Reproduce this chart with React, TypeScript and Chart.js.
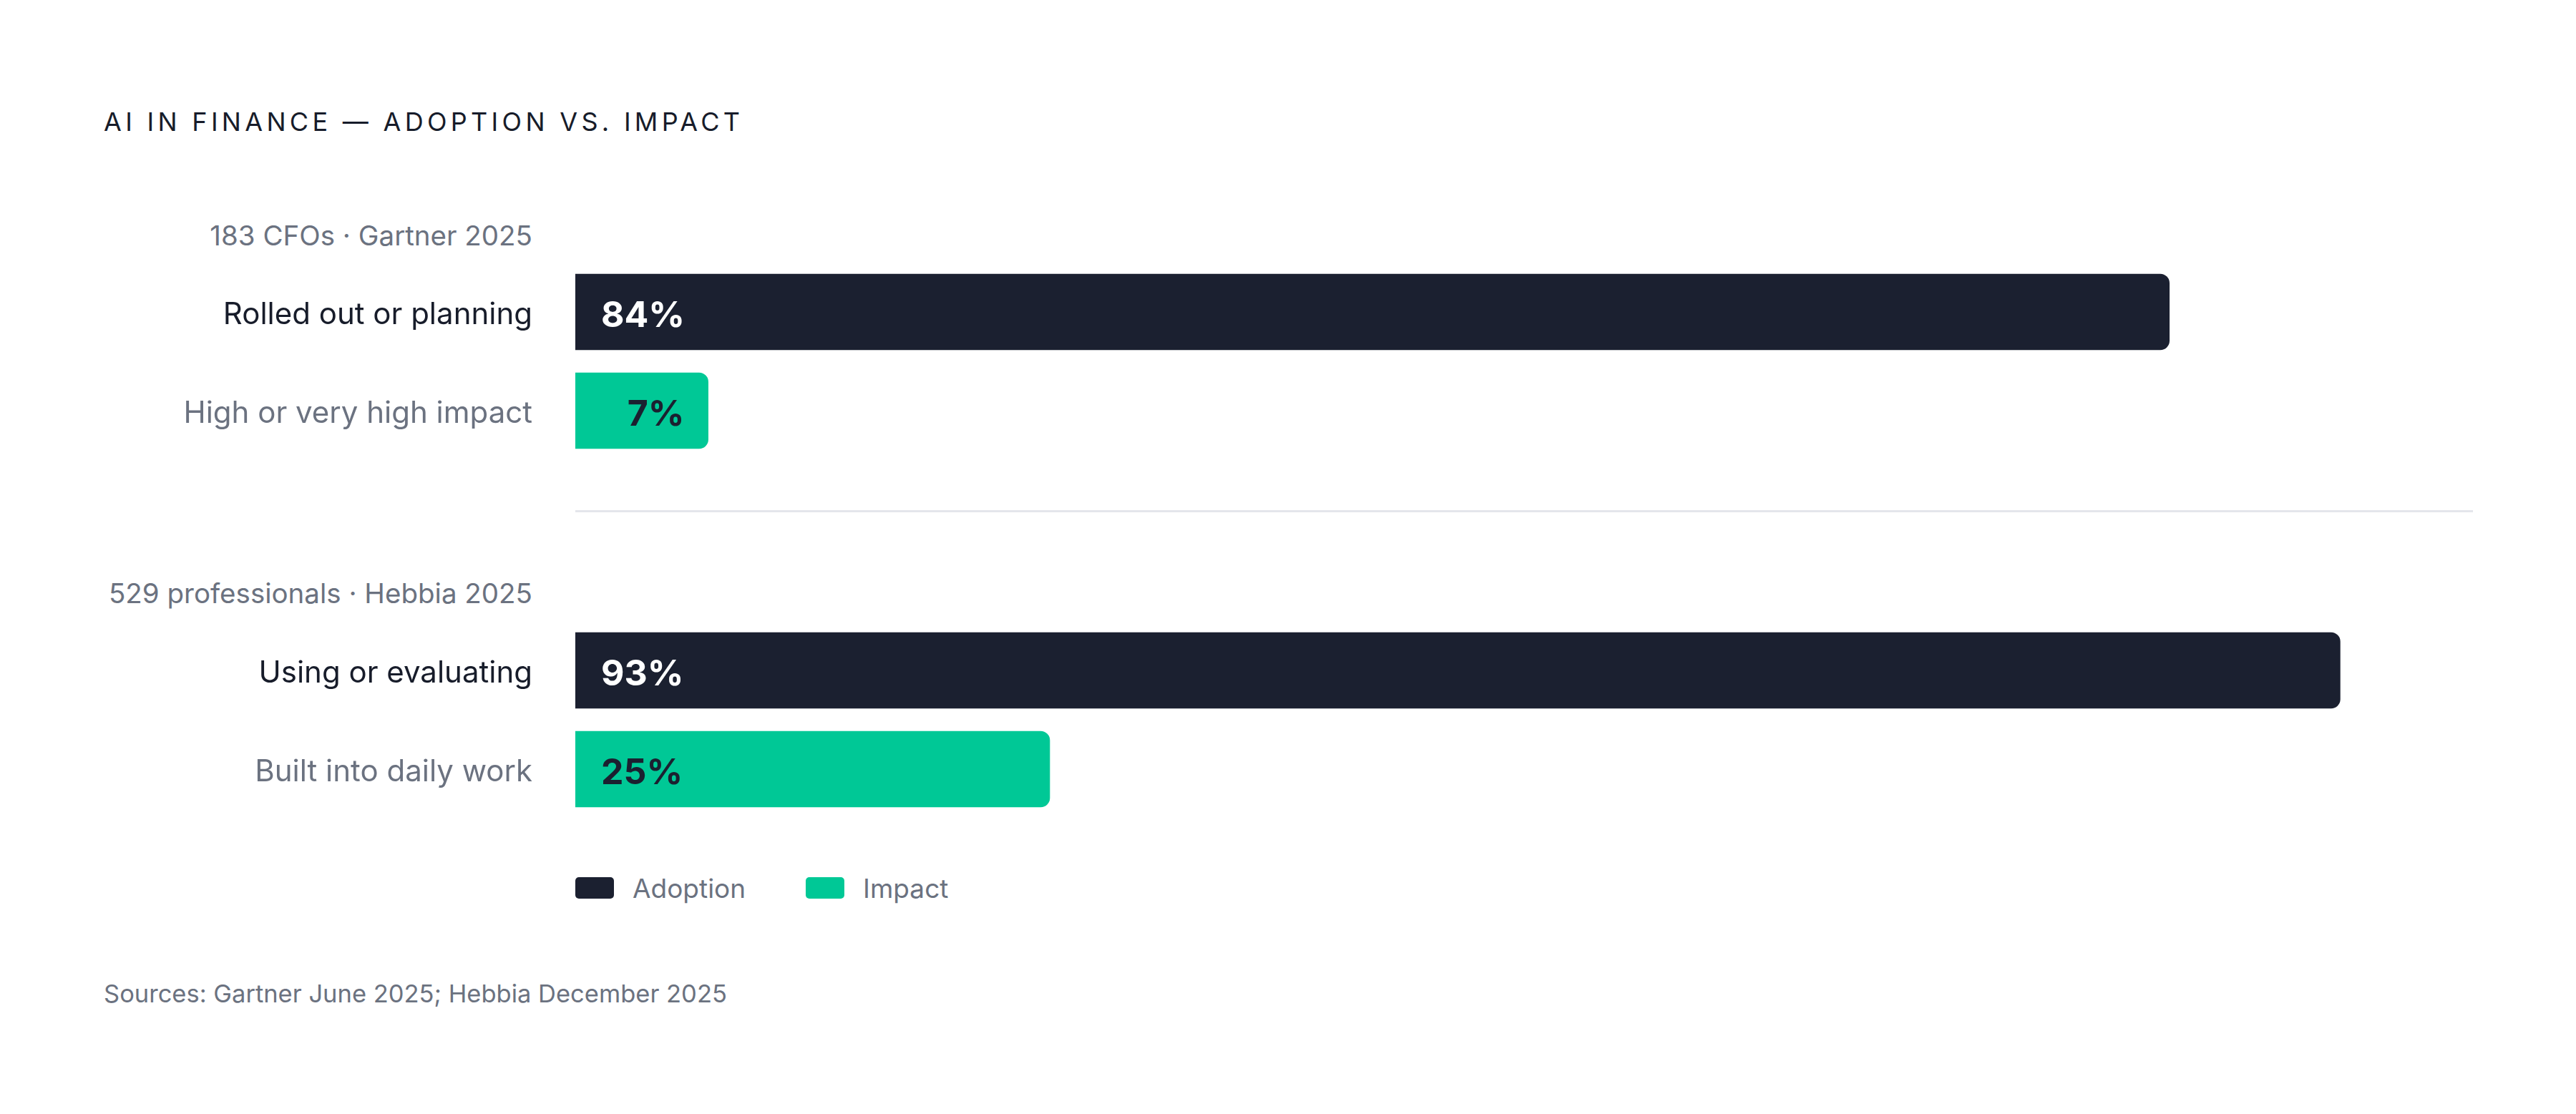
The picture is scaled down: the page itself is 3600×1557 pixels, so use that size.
import { useEffect, useRef } from "react";
import { Chart, registerables } from "chart.js";

Chart.register(...registerables);

const FONT = 'Inter, "Noto Sans", sans-serif';
const INK = "#171c2a";
const DARK = "#1b2030";
const GREEN = "#00c896";
const GRAY = "#6b7280";

// data
const title = "AI IN FINANCE — ADOPTION VS. IMPACT";
const seriesNames = ["Adoption", "Impact"];
const gartnerNote = "183 CFOs · Gartner 2025";
const gartnerLabels = ["Rolled out or planning", "High or very high impact"];
const gartnerValues = [84, 7];
const hebbiaNote = "529 professionals · Hebbia 2025";
const hebbiaLabels = ["Using or evaluating", "Built into daily work"];
const hebbiaValues = [93, 25];
const sourceNote = "Sources: Gartner June 2025; Hebbia December 2025";

const valueLabels = {
  id: "valueLabels",
  afterDatasetsDraw(chart: Chart) {
    const ctx = chart.ctx;
    ctx.save();
    ctx.font = `700 50px ${FONT}`;
    ctx.textBaseline = "middle";
    chart.data.datasets.forEach((ds, di) => {
      const meta = chart.getDatasetMeta(di);
      meta.data.forEach((bar: any, i) => {
        const v = ds.data[i] as number | null;
        if (v == null) return;
        const { x, y, base } = bar.getProps(["x", "y", "base"], true);
        ctx.fillStyle = di === 0 ? "#ffffff" : DARK;
        // short bars keep the label against their end
        if (x - base > 300) {
          ctx.textAlign = "left";
          ctx.fillText(`${v}%`, base + 36, y + 6);
        } else {
          ctx.textAlign = "right";
          ctx.fillText(`${v}%`, x - 33, y + 6);
        }
      });
    });
    ctx.restore();
  }
};

function GroupChart({ labels, values, top }: { labels: string[]; values: number[]; top: number }) {
  const canvasRef = useRef<HTMLCanvasElement | null>(null);

  useEffect(() => {
    if (!canvasRef.current) return;
    const chart = new Chart(canvasRef.current, {
      type: "bar",
      data: {
        labels,
        datasets: [
          { label: seriesNames[0], data: [values[0], null], backgroundColor: DARK },
          { label: seriesNames[1], data: [null, values[1]], backgroundColor: GREEN }
        ]
      },
      options: {
        indexAxis: "y",
        animation: false,
        responsive: true,
        maintainAspectRatio: false,
        layout: { padding: 0 },
        datasets: {
          bar: { grouped: false, barThickness: 106, borderRadius: 13, borderSkipped: "start" }
        },
        plugins: { legend: { display: false }, tooltip: { enabled: false } },
        scales: {
          x: { min: 0, max: 100, display: false },
          y: {
            grid: { display: false, drawTicks: false },
            border: { display: false },
            ticks: {
              padding: 60,
              labelOffset: 4,
              font: { family: FONT, size: 42 },
              color: (c: any) => (c.index === 0 ? INK : GRAY)
            },
            afterFit: (scale: any) => {
              scale.width = 659;
              // tick padding must not shrink the plot vertically
              scale.paddingTop = 0;
              scale.paddingBottom = 0;
            }
          }
        }
      },
      plugins: [valueLabels]
    });
    return () => chart.destroy();
  }, [labels, values]);

  return (
    <div style={{ position: "absolute", left: 145, top, width: 3311, height: 276 }}>
      <canvas ref={canvasRef} />
    </div>
  );
}

function Text({ children, left, right, cy, size, color, weight = 400, spacing = 0 }: any) {
  const style: any = {
    position: "absolute",
    top: cy - size / 2,
    fontSize: size,
    lineHeight: `${size}px`,
    fontFamily: FONT,
    fontWeight: weight,
    color,
    letterSpacing: spacing,
    whiteSpace: "nowrap"
  };
  if (left != null) style.left = left;
  if (right != null) style.right = 3600 - right;
  return <div style={style}>{children}</div>;
}

export default function App() {
  return (
    <div style={{ position: "absolute", left: 0, top: 0, width: 3600, height: 1557, background: "#ffffff", overflow: "hidden" }}>
      <Text left={145} cy={170} size={36} color={INK} spacing={5.3}>{title}</Text>

      <Text right={744} cy={329} size={38.5} color={GRAY}>{gartnerNote}</Text>
      <GroupChart labels={gartnerLabels} values={gartnerValues} top={367} />

      <div style={{ position: "absolute", left: 804, top: 713, width: 2652, height: 3, background: "#e4e6eb" }} />

      <Text right={744} cy={829} size={38.5} color={GRAY}>{hebbiaNote}</Text>
      <GroupChart labels={hebbiaLabels} values={hebbiaValues} top={868} />

      <div style={{ position: "absolute", left: 804, top: 1226, width: 54, height: 30, borderRadius: 5, background: DARK }} />
      <Text left={884} cy={1241} size={37} color={GRAY}>{seriesNames[0]}</Text>
      <div style={{ position: "absolute", left: 1126, top: 1226, width: 54, height: 30, borderRadius: 5, background: GREEN }} />
      <Text left={1206} cy={1241} size={37} color={GRAY}>{seriesNames[1]}</Text>

      <Text left={145} cy={1389} size={34.5} color={GRAY}>{sourceNote}</Text>
    </div>
  );
}
